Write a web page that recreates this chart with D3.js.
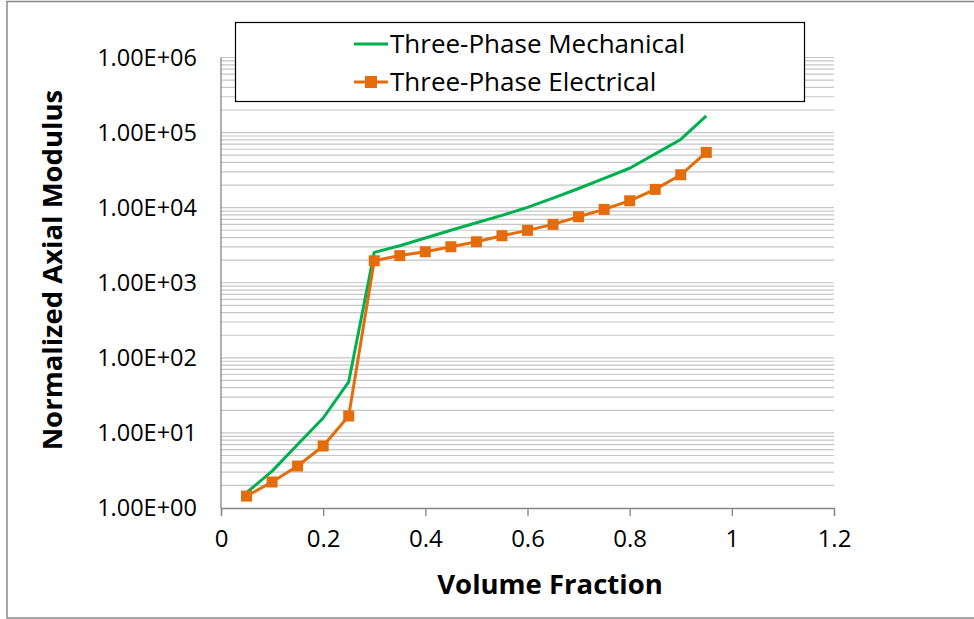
<!DOCTYPE html>
<html>
<head>
<meta charset="utf-8">
<script src="https://cdn.jsdelivr.net/npm/d3@7"></script>
<style>
  body { margin: 0; background: #fff; }
  text { font-family: "Open Sans", sans-serif; fill: #000; }
</style>
</head>
<body>
<svg id="chart_svg"></svg>
<script>
const volumeFraction = [0.05, 0.1, 0.15, 0.2, 0.25, 0.3, 0.35, 0.4, 0.45, 0.5,
    0.55, 0.6, 0.65, 0.7, 0.75, 0.8, 0.85, 0.9, 0.95];
const mechanical = [1.6, 3.1, 7.0, 15.8, 48, 2540, 3110, 3950, 5000, 6300,
    7900, 10100, 13400, 18000, 24500, 33500, 52000, 81000, 167000];
const electrical = [1.44, 2.22, 3.62, 6.7, 16.8, 1963, 2300, 2590, 3015, 3515,
    4225, 4985, 5995, 7570, 9490, 12360, 17530, 27420, 54500];
const xTicks = [0, 0.2, 0.4, 0.6, 0.8, 1, 1.2];
const yDecades = [1, 10, 100, 1000, 10000, 100000, 1000000];
const seriesNames = ["Three-Phase Mechanical", "Three-Phase Electrical"];

const width = 974, height = 619;
const green = "#00b050", orange = "#e46c0a";

const svg = d3.select("#chart_svg")
    .attr("width", width)
    .attr("height", height);

// chart frame
svg.append("rect")
    .attr("x", 7).attr("y", 1.5)
    .attr("width", 975).attr("height", 616.5)
    .attr("fill", "#fff")
    .attr("stroke", "#898989")
    .attr("stroke-width", 1.5);

const x = d3.scaleLinear().domain([0, 1.2]).range([221, 834]);
const y = d3.scaleLog().domain([1, 1e6]).range([508, 57.5]);

// gridlines: every 1..9 within each decade
const gridVals = [];
yDecades.slice(0, -1).forEach(d => {
    for (let k = 1; k < 10; k++) gridVals.push(d * k);
});
gridVals.push(1e6);

svg.append("g")
    .selectAll("line")
    .data(gridVals.filter(v => v > 1))
    .enter().append("line")
    .attr("x1", x(0)).attr("x2", x(1.2))
    .attr("y1", d => y(d)).attr("y2", d => y(d))
    .style("stroke", "#c6c6c6")
    .style("stroke-width", 1.2);

// y axis
const fmtExp = v => {
    const e = Math.round(Math.log10(v));
    return "1.00E+" + String(e).padStart(2, "0");
};

svg.append("line")
    .attr("x1", x(0)).attr("x2", x(0))
    .attr("y1", y(1e6)).attr("y2", y(1))
    .style("stroke", "#868686")
    .style("stroke-width", 1.3);

svg.append("g")
    .selectAll("text")
    .data(yDecades)
    .enter().append("text")
    .attr("x", 197)
    .attr("y", d => y(d))
    .attr("dy", "0.35em")
    .attr("text-anchor", "end")
    .style("font-size", "23.5px")
    .text(fmtExp);

// x axis
const xAxis = svg.append("g")
    .attr("transform", `translate(0,${y(1)})`)
    .call(d3.axisBottom(x).tickValues(xTicks).tickSize(8).tickPadding(14)
        .tickFormat(d3.format("~g")));
xAxis.select(".domain").style("stroke", "#868686").style("stroke-width", 1.3);
xAxis.selectAll(".tick line").style("stroke", "#868686").style("stroke-width", 1.3);
xAxis.selectAll("text")
    .style("font-family", "'Open Sans', sans-serif")
    .style("font-size", "24px")
    .style("fill", "#000");

// axis titles
svg.append("text")
    .attr("x", 550).attr("y", 584)
    .attr("dy", "0.35em")
    .attr("text-anchor", "middle")
    .style("font-size", "27.5px")
    .style("font-weight", "bold")
    .text("Volume Fraction");

svg.append("text")
    .attr("transform", "translate(52,270) rotate(-90)")
    .attr("dy", "0.35em")
    .attr("text-anchor", "middle")
    .style("font-size", "27.5px")
    .style("font-weight", "bold")
    .text("Normalized Axial Modulus");

// series
const line = d3.line()
    .x(d => x(d[0]))
    .y(d => y(d[1]));

svg.append("path")
    .datum(volumeFraction.map((v, i) => [v, mechanical[i]]))
    .attr("d", line)
    .attr("fill", "none")
    .style("stroke", green)
    .style("stroke-width", 3)
    .style("stroke-linejoin", "round");

svg.append("path")
    .datum(volumeFraction.map((v, i) => [v, electrical[i]]))
    .attr("d", line)
    .attr("fill", "none")
    .style("stroke", orange)
    .style("stroke-width", 3)
    .style("stroke-linejoin", "round");

const ms = 11;
svg.append("g")
    .selectAll("rect")
    .data(volumeFraction.map((v, i) => [v, electrical[i]]))
    .enter().append("rect")
    .attr("x", d => x(d[0]) - ms / 2)
    .attr("y", d => y(d[1]) - ms / 2)
    .attr("width", ms).attr("height", ms)
    .style("fill", orange);

// legend
const legend = svg.append("g");
legend.append("rect")
    .attr("x", 235.5).attr("y", 22.5)
    .attr("width", 569).attr("height", 79)
    .attr("fill", "#fff")
    .attr("stroke", "#000")
    .attr("stroke-width", 1.2);

const rows = [
    { name: seriesNames[0], color: green, marker: false, y: 44 },
    { name: seriesNames[1], color: orange, marker: true, y: 82 }
];
rows.forEach(r => {
    legend.append("line")
        .attr("x1", 354).attr("x2", 388)
        .attr("y1", r.y).attr("y2", r.y)
        .style("stroke", r.color)
        .style("stroke-width", 3);
    if (r.marker) {
        legend.append("rect")
            .attr("x", 371 - 6).attr("y", r.y - 6)
            .attr("width", 12).attr("height", 12)
            .style("fill", r.color);
    }
    legend.append("text")
        .attr("x", 390).attr("y", r.y)
        .attr("dy", "0.35em")
        .style("font-size", "26px")
        .text(r.name);
});
</script>
</body>
</html>
